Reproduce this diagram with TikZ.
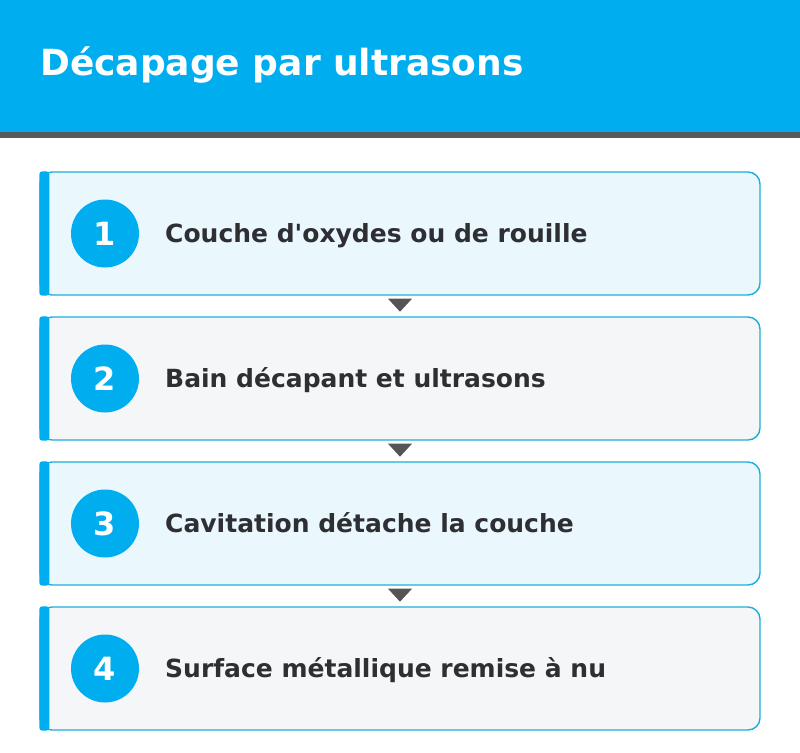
\documentclass[tikz,border=0pt]{standalone}
\usepackage{fontspec}
\setmainfont{DejaVu Sans}
\definecolor{headblue}{HTML}{00AEEF}
\definecolor{stripgray}{HTML}{555B61}
\definecolor{boxline}{HTML}{1DAEDB}
\definecolor{fillblue}{HTML}{EAF7FD}
\definecolor{fillgray}{HTML}{F4F6F8}
\definecolor{textdark}{HTML}{2D2F33}
\definecolor{arrowgray}{HTML}{555555}

\begin{document}
\begin{tikzpicture}[x=1pt, y=-1pt,
    stepbox/.style={draw=boxline, line width=1.4pt, rounded corners=12pt,
      minimum width=720pt, minimum height=123pt, inner sep=0pt},
    numdisc/.style={circle, fill=headblue, minimum size=68pt, inner sep=0pt,
      text=white, font=\bfseries\fontsize{32}{32}\selectfont},
    steptext/.style={anchor=base west, inner sep=0pt, text=textdark,
      font=\bfseries\fontsize{25}{25}\selectfont}]

  \useasboundingbox (0,0) rectangle (800,752);

  % Draw header band
  \fill[headblue] (0,0) rectangle (800,132);
  \fill[stripgray] (0,132) rectangle (800,138);
  \node[anchor=base west, inner sep=0pt, text=white,
    font=\bfseries\fontsize{36}{36}\selectfont] (title) at (40,75) {Décapage par ultrasons};

  % Draw the four steps
  \foreach \i/\fillc/\txt in {1/fillblue/{Couche d\textquotesingle oxydes ou de rouille},
                              2/fillgray/{Bain décapant et ultrasons},
                              3/fillblue/{Cavitation détache la couche},
                              4/fillgray/{Surface métallique remise à nu}} {
    \pgfmathsetmacro\yc{233.5+145*(\i-1)}
    \node[stepbox, fill=\fillc] (step\i) at (400,\yc) {};
    \fill[headblue, rounded corners=3pt] (step\i.north west) rectangle ([xshift=10pt]step\i.south west);
    \node[numdisc] (num\i) at (105,\yc) {\i};
    \node[steptext] (label\i) at (165,\yc+8.5) {\txt};
  }

  % Draw the arrows between steps
  \foreach \i in {1,2,3} {
    \fill[arrowgray] ([xshift=-12pt,yshift=-3pt]step\i.south) -- ++(24,0) -- ++(-12,13) -- cycle;
  }

\end{tikzpicture}
\end{document}
